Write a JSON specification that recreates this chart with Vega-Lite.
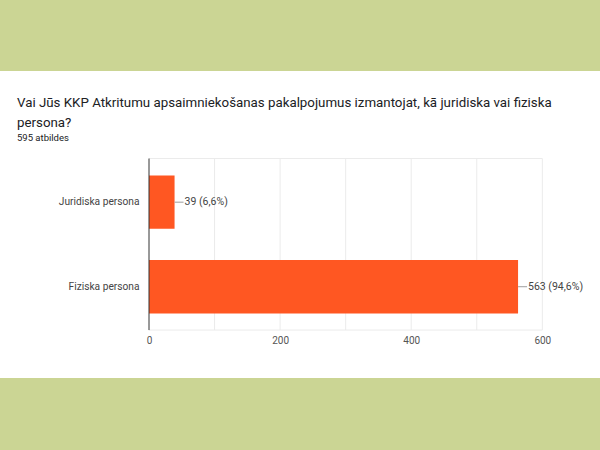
{
  "$schema": "https://vega.github.io/schema/vega-lite/v6.json",
  "width": 600,
  "height": 450,
  "autosize": {"type": "fit", "contains": "padding"},
  "padding": {"top": 71, "bottom": 72, "left": 0, "right": 0},
  "background": "#cbd594",
  "config": {"view": {"fill": "white", "stroke": null}, "font": "Roboto"},
  "title": {
    "text": ["Vai Jūs KKP Atkritumu apsaimniekošanas pakalpojumus izmantojat, kā juridiska vai fiziska", "persona?"],
    "subtitle": "595 atbildes",
    "anchor": "start",
    "frame": "group",
    "dx": 17,
    "offset": -71,
    "font": "Roboto",
    "fontSize": 13.3,
    "fontWeight": "normal",
    "color": "#202124",
    "lineHeight": 20,
    "subtitleFont": "Roboto",
    "subtitleFontSize": 9.5,
    "subtitleColor": "#202124",
    "subtitlePadding": 3
  },
  "datasets": {
    "bars": [
      {"atbilde": "Juridiska persona", "skaits": 39, "label": "39 (6,6%)"},
      {"atbilde": "Fiziska persona", "skaits": 563, "label": "563 (94,6%)"}
    ],
    "grid": [{"v": 100}, {"v": 200}, {"v": 300}, {"v": 400}, {"v": 500}, {"v": 600}],
    "one": [{"k": 1}]
  },
  "layer": [
    {
      "data": {"name": "grid"},
      "mark": {"type": "rule", "color": "#ebebeb", "strokeWidth": 1},
      "encoding": {
        "x": {
          "field": "v", "type": "quantitative", "title": null,
          "scale": {"domain": [-227.3, 688], "nice": false, "zero": false},
          "axis": {"values": [0, 200, 400, 600], "domain": false, "ticks": false, "grid": false, "offset": -49, "title": null, "labelFontSize": 10, "labelColor": "#555555", "labelPadding": 6, "labelFont": "Roboto"}
        },
        "y": {
          "datum": "Juridiska persona", "type": "nominal", "bandPosition": -0.3175,
          "scale": {"domain": ["Juridiska persona", "Fiziska persona"], "paddingInner": 0.3685, "paddingOuter": 1.027, "align": 0.618},
          "axis": {"domain": false, "ticks": false, "grid": false, "offset": -149, "labelPadding": 10, "labelFontSize": 10.2, "labelColor": "#444444", "labelFont": "Roboto", "title": null, "minExtent": 0}
        },
        "y2": {"datum": "Fiziska persona", "bandPosition": 1.312}
      }
    },
    {
      "data": {"name": "one"},
      "mark": {"type": "rule", "color": "#ebebeb", "strokeWidth": 1},
      "encoding": {
        "x": {"datum": 0, "type": "quantitative"},
        "x2": {"datum": 600},
        "y": {"datum": "Juridiska persona", "type": "nominal", "bandPosition": -0.3175}
      }
    },
    {
      "data": {"name": "one"},
      "mark": {"type": "rule", "color": "#ebebeb", "strokeWidth": 1},
      "encoding": {
        "x": {"datum": 0, "type": "quantitative"},
        "x2": {"datum": 600},
        "y": {"datum": "Fiziska persona", "type": "nominal", "bandPosition": 1.312}
      }
    },
    {
      "data": {"name": "bars"},
      "mark": {"type": "bar", "color": "#ff5722"},
      "encoding": {
        "x": {"field": "skaits", "type": "quantitative", "title": null},
        "y": {"field": "atbilde", "type": "nominal", "title": null}
      }
    },
    {
      "data": {"name": "one"},
      "mark": {"type": "rule", "color": "#333333", "strokeWidth": 1},
      "encoding": {
        "x": {"datum": 0, "type": "quantitative"},
        "y": {"datum": "Juridiska persona", "type": "nominal", "bandPosition": -0.3175},
        "y2": {"datum": "Fiziska persona", "bandPosition": 1.312}
      }
    },
    {
      "data": {"name": "bars"},
      "mark": {"type": "rule", "color": "#9e9e9e", "strokeWidth": 1, "x2Offset": 9},
      "encoding": {
        "x": {"field": "skaits", "type": "quantitative", "title": null},
        "x2": {"field": "skaits"},
        "y": {"field": "atbilde", "type": "nominal", "title": null}
      }
    },
    {
      "data": {"name": "bars"},
      "mark": {"type": "text", "align": "left", "baseline": "middle", "dx": 10, "fontSize": 10.5, "color": "#444444", "font": "Roboto"},
      "encoding": {
        "x": {"field": "skaits", "type": "quantitative", "title": null},
        "y": {"field": "atbilde", "type": "nominal", "title": null},
        "text": {"field": "label"}
      }
    }
  ]
}
